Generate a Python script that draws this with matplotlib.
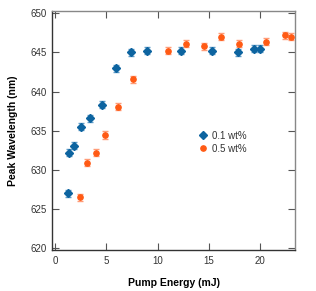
import matplotlib.pyplot as plt

plt.rcParams['font.family'] = ['Liberation Sans', 'DejaVu Sans']

# 0.1 wt% series
energy_01 = [1.27, 1.36, 1.8, 2.5, 3.4, 4.6, 5.95, 7.45, 8.95, 12.25, 15.3, 17.8, 19.4, 20.0]
wave_01 = [627.0, 632.2, 633.1, 635.5, 636.6, 638.3, 643.0, 645.0, 645.2, 645.2, 645.2, 645.0, 645.5, 645.5]
err_01 = [0.45] * len(energy_01)

# 0.5 wt% series
energy_05 = [2.47, 3.08, 4.02, 4.9, 6.17, 7.63, 10.97, 12.76, 14.5, 16.2, 17.9, 20.6, 22.4, 23.05]
wave_05 = [626.5, 630.9, 632.2, 634.45, 638.05, 641.6, 645.2, 646.1, 645.8, 647.0, 646.1, 646.4, 647.2, 647.0]
err_05 = [0.45] * len(energy_05)

blue = "#0d64a0"
orange = "#ff5a14"

fig = plt.figure(figsize=(3.16, 2.91), dpi=100)
ax = fig.add_axes([0.1646, 0.1409, 0.769, 0.8213])

ax.errorbar(energy_01, wave_01, yerr=err_01, fmt="D", color=blue, ms=4.4,
            ecolor="#5f9cc8", elinewidth=1.0, capsize=2.2, capthick=1.0,
            label="0.1 wt%", zorder=3)
ax.errorbar(energy_05, wave_05, yerr=err_05, fmt="s", color=orange, ms=3.8,
            ecolor="#ff9c78", elinewidth=1.0, capsize=2.2, capthick=1.0,
            label="0.5 wt%", zorder=3)

ax.set_xlim(-0.3, 23.4)
ax.set_ylim(619.75, 650.3)
ax.set_xticks([0, 5, 10, 15, 20])
ax.set_yticks([620, 625, 630, 635, 640, 645, 650])

ax.tick_params(direction="in", length=5, width=0.8, color="#555555",
               labelsize=7, labelcolor="#333333", top=True, right=True, pad=4)
for side in ["left", "bottom"]:
    ax.spines[side].set_color("#333333")
for side in ["top", "right"]:
    ax.spines[side].set_color("#888888")
for s in ax.spines.values():
    s.set_linewidth(1.0)

ax.set_xlabel("Pump Energy (mJ)", fontsize=7.5, fontweight="bold", labelpad=9)
ax.set_ylabel("Peak Wavelength (nm)", fontsize=7.5, fontweight="bold", labelpad=9)

h, l = ax.get_legend_handles_labels()
h = [hh[0] for hh in h]
h[1].set_marker("o")
ax.legend(h, l, loc="upper left", bbox_to_anchor=(0.56, 0.535), frameon=False,
          fontsize=7, handletextpad=0.4, labelspacing=0.3, handlelength=1.2,
          labelcolor="#333333")

fig.savefig("out.png", dpi=100)
